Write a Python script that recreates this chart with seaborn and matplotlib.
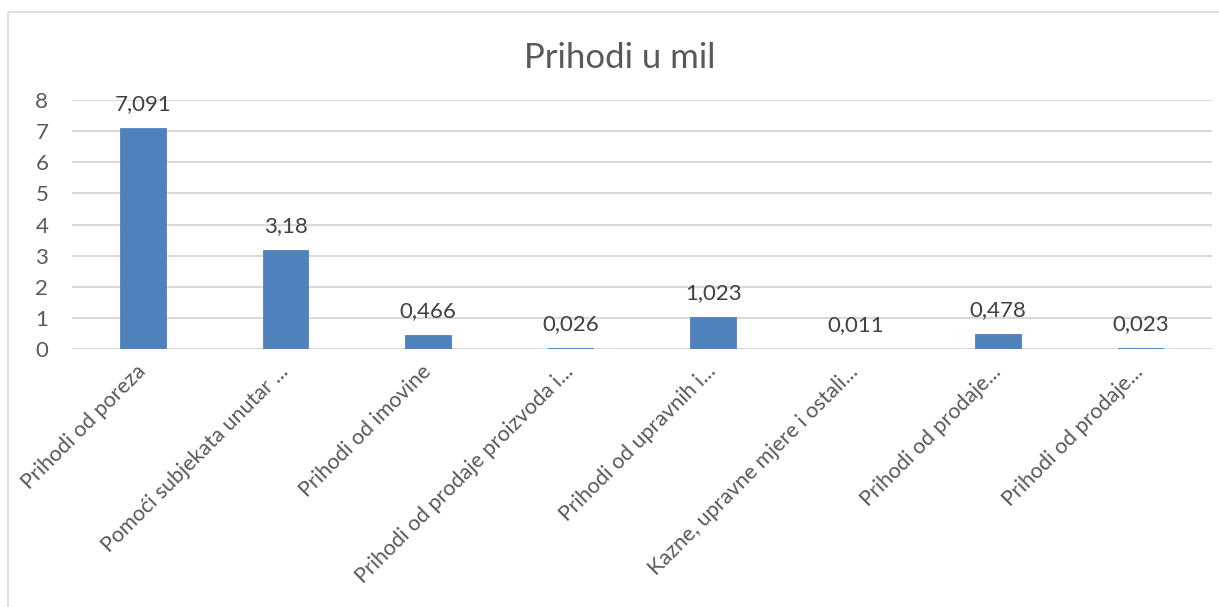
import matplotlib
matplotlib.use('Agg')
import pandas as pd
import seaborn as sns
import matplotlib.pyplot as plt
from matplotlib.patches import Rectangle

# Chart data
categories = [
    "Prihodi od poreza",
    "Pomoći subjekata unutar ...",
    "Prihodi od imovine",
    "Prihodi od prodaje proizvoda i...",
    "Prihodi od upravnih i...",
    "Kazne, upravne mjere i ostali...",
    "Prihodi od prodaje...",
    "Prihodi od prodaje... ",
]
values = [7.091, 3.18, 0.466, 0.026, 1.023, 0.011, 0.478, 0.023]
value_labels = ["7,091", "3,18", "0,466", "0,026", "1,023", "0,011", "0,478", "0,023"]
y_ticks = [0, 1, 2, 3, 4, 5, 6, 7, 8]

df = pd.DataFrame({'kategorija': categories, 'vrijednost': values})

sns.set_style('white')
plt.rcParams['font.family'] = ['Lato', 'DejaVu Sans']

fig = plt.figure(figsize=(12.19, 6.07), dpi=100)
ax = fig.add_axes([0.059, 0.425, 0.935, 0.41])

sns.barplot(data=df, x='kategorija', y='vrijednost', color='#4F81BD',
            width=0.32, saturation=1, edgecolor='#4F81BD', linewidth=0.6, ax=ax)

ax.set_ylim(0, 8)
ax.set_yticks(y_ticks)
ax.set_yticklabels([str(t) for t in y_ticks], fontsize=16, color='#595959')
ax.yaxis.grid(True, color='#D9D9D9', linewidth=1.5)
ax.set_axisbelow(True)
for s in ax.spines.values():
    s.set_visible(False)
ax.tick_params(axis='y', length=0, pad=17)
ax.tick_params(axis='x', length=0, pad=14)
ax.set_xlabel('')
ax.set_ylabel('')
ax.set_xticks(range(len(categories)))
ax.set_xticklabels([c.strip() for c in categories], rotation=45, ha='right',
                   va='center', rotation_mode='anchor', fontsize=15.5,
                   color='#595959')

# value labels above bars
for i, (v, lab) in enumerate(zip(values, value_labels)):
    ax.annotate(lab, (i, v), xytext=(0, 10), textcoords='offset points',
                ha='center', va='bottom', fontsize=16, color='#404040')

fig.text(0.508, 0.905, 'Prihodi u mil', ha='center', va='center',
         fontsize=25, color='#595959')

# outer chart border
fig.patches.append(Rectangle((8 / 1219, -0.01), 1.02, 1 - 12 / 607 + 0.01,
                             transform=fig.transFigure, fill=False,
                             edgecolor='#D9D9D9', linewidth=1.2))

fig.savefig('out.png', dpi=100)
